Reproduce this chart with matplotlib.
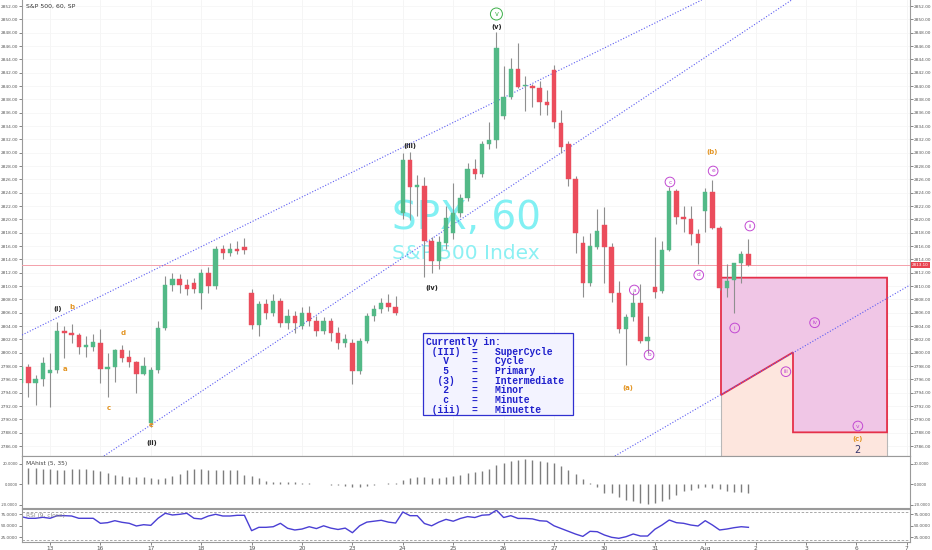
import numpy as np
import matplotlib.pyplot as plt
from matplotlib.patches import Rectangle, Polygon
import matplotlib.transforms as mtransforms

W, H = 932, 550

# x axis: one slot per hourly bar, 7 bars per session
day_labels = ['13', '16', '17', '18', '19', '20', '23', '24', '25', '26', '27',
              '30', '31', 'Aug', '2', '3', '6', '7']
bars_per_day = 7
first_bar = -4   # four bars of Jul 12 are visible before the 13th

opens = [2795.5, 2797.9, 2795.4, 2796.0,
         2797.0, 2797.4, 2803.2, 2803.0, 2802.6, 2800.9, 2800.9,
         2801.5, 2797.6, 2797.8, 2800.4, 2799.3, 2798.6, 2796.8,
         2789.4, 2797.4, 2803.7, 2810.2, 2811.0, 2810.2, 2810.5,
         2809.0, 2812.0, 2810.0, 2815.5, 2815.0, 2815.6, 2815.8,
         2809.0, 2804.2, 2807.3, 2806.0, 2807.8, 2804.5, 2805.5,
         2804.0, 2806.0, 2804.8, 2803.2, 2804.8, 2803.0, 2801.5,
         2801.5, 2797.2, 2801.8, 2805.5, 2806.6, 2807.5, 2806.8,
         2820.9, 2828.9, 2824.8, 2825.0, 2816.7, 2813.7, 2816.4,
         2817.9, 2820.9, 2823.2, 2827.5, 2826.8, 2831.3, 2831.9,
         2835.5, 2838.4, 2842.5, 2840.0, 2840.0, 2839.65, 2837.65,
         2842.4, 2834.5, 2831.3, 2826.0, 2816.5, 2810.5, 2815.9,
         2819.15, 2815.9, 2809.0, 2803.5, 2805.4, 2807.4, 2801.75,
         2809.8, 2809.3, 2815.4, 2824.3, 2820.4, 2820.0, 2817.75,
         2821.25, 2824.15, 2818.65, 2809.65, 2810.9, 2813.4, 2814.75]
highs = [2798.2, 2798.3, 2796.6, 2799.3,
         2799.9, 2804.6, 2804.0, 2804.3, 2802.9, 2802.5, 2802.8,
         2803.5, 2799.9, 2800.6, 2801.2, 2800.4, 2798.8, 2799.4,
         2797.8, 2804.75, 2811.5, 2812.0, 2811.8, 2811.0, 2811.2,
         2812.5, 2812.8, 2816.0, 2816.2, 2816.5, 2816.8, 2817.2,
         2809.5, 2807.8, 2808.0, 2808.8, 2808.2, 2806.5, 2806.2,
         2806.8, 2807.0, 2805.5, 2805.3, 2805.2, 2803.8, 2802.8,
         2802.0, 2802.2, 2806.0, 2807.2, 2808.2, 2808.8, 2808.5,
         2830.0, 2830.1, 2826.6, 2826.4, 2817.3, 2817.5, 2822.0,
         2825.5, 2823.8, 2828.5, 2829.0, 2831.8, 2834.6, 2848.1,
         2843.0, 2844.2, 2846.5, 2841.5, 2840.3, 2840.7, 2839.4,
         2843.15, 2836.35, 2831.8, 2826.5, 2817.5, 2818.0, 2821.5,
         2821.9, 2816.5, 2810.8, 2805.8, 2809.15, 2810.3, 2805.5,
         2817.4, 2816.75, 2824.9, 2824.5, 2822.0, 2822.0, 2818.5,
         2824.65, 2825.9, 2819.0, 2813.3, 2813.5, 2815.25, 2817.0]
lows = [2795.2, 2793.4, 2792.2, 2795.0,
        2791.8, 2797.0, 2799.2, 2801.5, 2799.8, 2799.4, 2800.2,
        2795.4, 2793.4, 2795.6, 2798.6, 2797.9, 2793.9, 2796.6,
        2788.9, 2797.0, 2803.4, 2809.3, 2809.0, 2808.6, 2809.0,
        2806.5, 2809.0, 2809.5, 2814.0, 2814.5, 2814.8, 2814.8,
        2803.5, 2802.5, 2805.0, 2805.5, 2803.8, 2803.5, 2803.0,
        2803.5, 2804.0, 2802.5, 2802.8, 2801.8, 2800.5, 2800.8,
        2795.3, 2796.8, 2801.5, 2804.8, 2806.0, 2806.2, 2805.6,
        2820.0, 2819.9, 2820.5, 2811.4, 2811.9, 2812.5, 2815.5,
        2817.0, 2820.3, 2822.8, 2826.0, 2826.3, 2830.5, 2830.65,
        2835.0, 2838.0, 2839.7, 2836.3, 2836.8, 2835.7, 2835.6,
        2833.65, 2829.9, 2825.0, 2815.0, 2808.3, 2810.0, 2815.5,
        2810.4, 2807.65, 2802.9, 2798.2, 2804.8, 2801.5, 2799.9,
        2808.15, 2809.0, 2815.2, 2819.3, 2818.15, 2816.15, 2813.3,
        2818.15, 2818.5, 2809.4, 2808.4, 2805.9, 2810.4, 2813.0]
closes = [2797.8, 2795.4, 2796.0, 2798.5,
          2797.4, 2803.2, 2803.0, 2802.6, 2800.9, 2801.1, 2801.6,
          2797.5, 2797.8, 2800.4, 2799.2, 2798.6, 2796.8, 2798.0,
          2797.4, 2803.65, 2810.2, 2811.0, 2810.2, 2809.5, 2809.6,
          2812.0, 2810.0, 2815.5, 2815.0, 2815.6, 2815.2, 2815.4,
          2804.2, 2807.3, 2806.0, 2807.8, 2804.5, 2805.5, 2804.5,
          2806.0, 2804.8, 2803.2, 2804.8, 2803.0, 2801.5, 2802.0,
          2797.2, 2801.8, 2805.5, 2806.6, 2807.5, 2806.8, 2806.0,
          2828.9, 2824.8, 2825.2, 2816.7, 2813.7, 2816.6, 2820.2,
          2820.9, 2823.2, 2827.5, 2826.8, 2831.3, 2831.9, 2845.75,
          2838.4, 2842.5, 2839.9, 2840.2, 2839.7, 2837.65, 2837.15,
          2834.65, 2830.9, 2826.0, 2818.0, 2810.5, 2816.0, 2818.3,
          2815.9, 2809.0, 2803.5, 2805.4, 2807.4, 2801.75, 2802.4,
          2809.15, 2815.4, 2824.3, 2820.4, 2820.0, 2817.75, 2816.4,
          2824.15, 2818.65, 2809.65, 2810.8, 2813.5, 2814.75, 2813.1]

macd_hist = [16, 16, 16, 15.3,
             15, 13.7, 14.3, 15.3, 15.3, 15.3, 13.7,
             12.7, 11, 9.3, 8.3, 7, 7, 7,
             6, 5, 6, 8.3, 10.3, 13.7, 15.3,
             15, 13.7, 13.7, 13.7, 13.7, 13.7, 9.3,
             8.3, 6, 3.7, 2.7, 2, 2, 2,
             1, 0.8, 0.5, 0.3, -0.5, -1, -1.5,
             -2.5, -2.5, -1.5, -0.5, 0.5, 1, 1.5,
             4, 6, 7.5, 7, 6, 6, 7,
             8, 9.5, 11, 12, 13.5, 15, 19,
             21, 23, 24, 24.5, 24, 23, 22,
             21, 18, 14, 10, 5, 1, -3,
             -9, -9, -12.3, -15, -16.3, -18.3, -19.7,
             -18.3, -16.3, -14, -10, -6.3, -5.7, -4,
             -3, -3.3, -5, -6.3, -7.3, -8, -8.3]

rsi = [69.9, 66.3, 66.3, 68.5,
       66.3, 72, 72, 71.3, 66.3, 66.3, 66.3,
       55.4, 56.8, 61.1, 57.6, 55.4, 49.6, 52.4,
       51, 66.3, 77.2, 73.5, 75, 77.2, 66.3,
       64.8, 71.3, 75, 71.3, 71.3, 72.8, 72.8,
       39.4, 46.7, 46.7, 48, 55.4, 44.6, 40.9,
       43, 48, 44, 50, 45, 42, 45,
       35, 50, 58, 60, 62, 58, 56,
       80, 72, 72, 55, 50, 58, 64,
       60, 66, 70, 68, 73, 74, 84,
       68, 72, 66, 66, 65, 61, 60,
       50, 44, 38, 32, 27, 38, 37.2,
       30, 25, 22.8, 26.3, 32.2, 27.8, 27.8,
       42.4, 51.7, 62.6, 56.8, 55.4, 51.7, 49.6,
       61.1, 51.7, 40.9, 43, 45.9, 48, 46.7]

last_price = 2813.10

# elliott wave labels: (bar, price, text)
black_labels = [(1.07, 2806.5, '(i)'), (14.1, 2786.4, '(ii)'), (50, 2831.0, '(iii)'),
                (53, 2809.7, '(iv)'), (62, 2848.85, '(v)')]
orange_labels = [(3.0, 2806.9, 'b'), (2.1, 2797.5, 'a'), (8.1, 2791.65, 'c'),
                 (10.1, 2802.9, 'd'), (14.0, 2789.15, 'e'),
                 (92.0, 2830.1, '(b)'), (80.3, 2794.7, '(a)'), (112.2, 2787.05, '(c)')]
circle_labels = [(81.15, 2809.4, 'a'), (83.2, 2799.65, 'b'), (86.1, 2825.6, 'c'),
                 (90.1, 2811.65, 'd'), (92.1, 2827.25, 'e'), (97.2, 2819.0, 'ii'),
                 (95.1, 2803.7, 'i'), (102.2, 2797.15, 'iii'), (106.2, 2804.5, 'iv'),
                 (112.2, 2789.0, 'v')]

# dotted channel lines, two points each (bar, price)
trend_lines = [((-3.89, 2802.65), (73.6, 2843.9)),
               ((8.75, 2785.4), (65.3, 2825.9)),
               ((90.28, 2791.9), (119.44, 2810.15))]

# projected zone for the wave 2 drop
zone_x = [93.19, 116.25, 116.25, 103.19, 103.19, 93.19]
zone_y = [2811.25, 2811.25, 2788.05, 2788.05, 2800.05, 2793.65]

legend_lines = ['Currently in:',
                ' (III)  =   SuperCycle',
                '   V    =   Cycle',
                '   5    =   Primary',
                '  (3)   =   Intermediate',
                '   2    =   Minor',
                '   c    =   Minute',
                ' (iii)  =   Minuette']

UP, DOWN, WICK = '#53b987', '#eb4d5c', '#8f8f8f'
AXC, TXT = '#9a9a9a', '#555555'
PURPLE = '#c249d2'

x = np.arange(len(opens)) + first_bar
o = np.array(opens); h = np.array(highs); l = np.array(lows); c = np.array(closes)
day_pos = np.arange(len(day_labels)) * bars_per_day

fig = plt.figure(figsize=(W / 100, H / 100), dpi=100)
ax = fig.add_axes([22 / W, 1 - 456 / H, 888 / W, 456 / H])
ax_m = fig.add_axes([22 / W, 1 - 507.7 / H, 888 / W, 51.7 / H])
ax_r = fig.add_axes([22 / W, 1 - 541.5 / H, 888 / W, 32.5 / H])

xlim = (-3.89, 119.44)
for a, fs in ((ax, 3.1), (ax_m, 2.7), (ax_r, 3.0)):
    a.set_xlim(*xlim)
    a.set_xticks(day_pos)
    a.tick_params(axis='y', labelsize=fs, colors=TXT, length=2, width=0.5, pad=0.8,
                  left=True, right=True, labelleft=True, labelright=True)
    a.tick_params(axis='x', labelbottom=False, bottom=False)
    for s in a.spines.values():
        s.set_color(AXC)
        s.set_linewidth(0.8)
    a.set_facecolor('white')
ax.spines['top'].set_visible(False)

# ---- main price panel ----
ax.set_ylim(2784.5, 2852.9)
ax.set_yticks(np.arange(2786, 2853, 2))
ax.yaxis.set_major_formatter(plt.FormatStrFormatter('%.2f'))
for d in day_pos:
    ax.axvline(d, color='#f4f4f4', lw=0.6, zorder=0)
for p in np.arange(2786, 2853, 2):
    ax.axhline(p, color='#f6f6f6', lw=0.6, zorder=0)

ax.text(0.5, 0.522, 'SPX, 60', transform=ax.transAxes, ha='center', va='center',
        fontsize=28, color='#82f0f3', zorder=1)
ax.text(0.5, 0.443, 'S&P 500 Index', transform=ax.transAxes, ha='center', va='center',
        fontsize=14.5, color='#8cf0f3', zorder=1)

# target zone
ax.add_patch(Rectangle((zone_x[0], 2780), zone_x[1] - zone_x[0], zone_y[0] - 2780,
                       facecolor='#fde6de', edgecolor='#b8b8b8', lw=0.8, zorder=2))
ax.add_patch(Polygon(np.column_stack([zone_x, zone_y]), closed=True,
                     facecolor='#f0c6e6', edgecolor='#e5304a', lw=1.3, zorder=3))

ax.axhline(last_price, color='#f4a0aa', lw=0.7, zorder=4)

for p1, p2 in trend_lines:
    ax.axline(p1, p2, color='#5d5df2', lw=0.8, ls=(0, (1, 1.6)), zorder=4)

colors = np.where(c >= o, UP, DOWN)
ax.vlines(x, l, h, color=WICK, lw=0.8, zorder=5)
body_lo = np.minimum(o, c)
body_h = np.maximum(np.abs(c - o), 0.18)
ax.bar(x, body_h, bottom=body_lo, width=0.62, color=colors, edgecolor=colors,
       lw=0.3, zorder=6)

for bx, by, t in black_labels:
    ax.text(bx, by, t, ha='center', va='center', fontsize=4.8, color='#222222',
            fontweight='bold', zorder=8)
for bx, by, t in orange_labels:
    ax.text(bx, by, t, ha='center', va='center', fontsize=5, color='#e39524',
            fontweight='bold', zorder=8)
for bx, by, t in circle_labels:
    ax.text(bx, by, t, ha='center', va='center', fontsize=4.2, color=PURPLE,
            zorder=8, bbox=dict(boxstyle='circle,pad=0.4', fc='none',
                                ec=PURPLE, lw=0.7))
ax.text(62, 2850.8, 'v', ha='center', va='center', fontsize=4.8, color='#3caf48',
        zorder=8, bbox=dict(boxstyle='circle,pad=0.45', fc='none', ec='#3caf48', lw=0.7))
ax.text(112.2, 2785.4, '2', ha='center', va='center', fontsize=7, color='#38386e', zorder=8)

ax.text(4 / 888, 1 - 6 / 456, 'S&P 500, 60, SP', transform=ax.transAxes,
        ha='left', va='center', fontsize=4.4, color='#333333')

# "Currently in" box
bx0 = (422.7 - 22) / 888
ax.add_patch(Rectangle((bx0, 1 - 415 / 456), 150 / 888, 81.7 / 456,
                       transform=ax.transAxes, facecolor='#f3f3ff',
                       edgecolor='#3030d0', lw=0.9, zorder=9))
for k, line in enumerate(legend_lines):
    ax.text((425.5 - 22) / 888, 1 - (342 + k * 9.67) / 456, line,
            transform=ax.transAxes, ha='left', va='center', fontsize=6.9,
            family='Liberation Mono', fontweight='bold', color='#1f1fcc', zorder=10)

trans = mtransforms.blended_transform_factory(ax.transAxes, ax.transData)
ax.text(1.002, last_price, '%.2f' % last_price, transform=trans, ha='left', va='center',
        fontsize=3.0, color='white', zorder=11, clip_on=False,
        bbox=dict(boxstyle='square,pad=0.25', fc='#e8424f', ec='none'))

# ---- MACD histogram ----
ax_m.set_ylim(-22.9, 27.7)
ax_m.set_yticks([-20, 0, 20])
ax_m.yaxis.set_major_formatter(plt.FormatStrFormatter('%.4f'))
ax_m.vlines(x, 0, macd_hist, color='#7d7d7d', lw=1.0)
ax_m.text(4 / 888, 0.86, 'MAhist (5, 35)', transform=ax_m.transAxes, ha='left',
          va='center', fontsize=4.2, color='#444444')

# ---- RSI ----
ax_r.set_ylim(15.9, 86.5)
ax_r.set_yticks([25, 50, 75])
ax_r.yaxis.set_major_formatter(plt.FormatStrFormatter('%.4f'))
ax_r.axhline(80, color='#9a9a9a', lw=0.6, ls=(0, (3, 2)))
ax_r.axhline(20, color='#9a9a9a', lw=0.6, ls=(0, (3, 2)))
ax_r.plot(x, rsi, color='#4a3fd4', lw=1.0)
ax_r.text(4 / 888, 0.8, 'RSI (9, close)', transform=ax_r.transAxes, ha='left',
          va='center', fontsize=4.2, color='#888888')
ax_r.tick_params(axis='x', labelbottom=True, bottom=True, length=2, width=0.5,
                 colors=TXT, labelsize=4.2, pad=1.5)
ax_r.set_xticklabels(day_labels)

fig.savefig('out.png', dpi=100, facecolor='white')
